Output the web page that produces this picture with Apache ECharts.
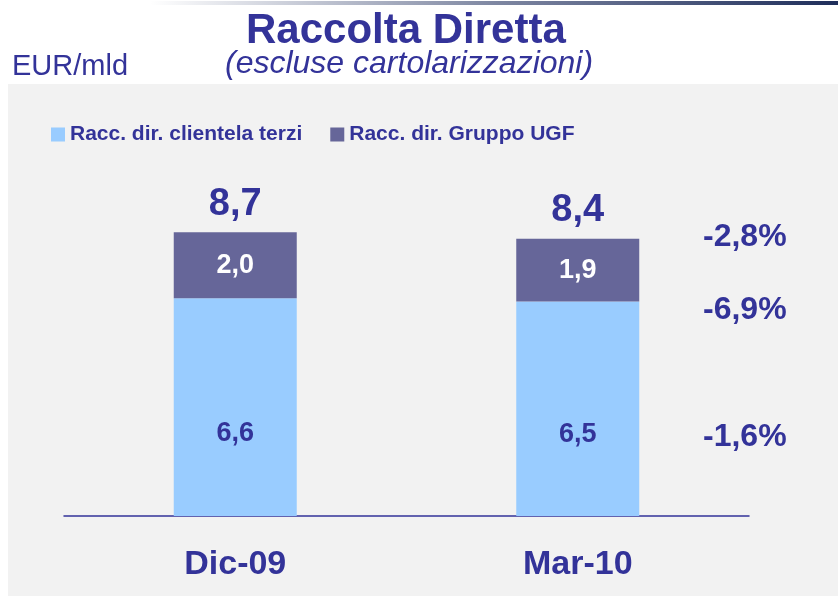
<!DOCTYPE html>
<html>
<head>
<meta charset="utf-8">
<script src="https://cdn.jsdelivr.net/npm/echarts@6/dist/echarts.min.js"></script>
<style>html,body{margin:0;padding:0;background:#fff;}#c{width:838px;height:596px;}</style>
</head>
<body>
<div id="c"></div>
<script>
var categories = ['Dic-09', 'Mar-10'];
var clientelaTerzi = [6.6, 6.5];
var gruppoUGF = [2.0, 1.9];
var totals = [8.7, 8.4];
var variations = ['-2,8%', '-6,9%', '-1,6%'];
var seriesNames = ['Racc. dir. clientela terzi', 'Racc. dir. Gruppo UGF'];

var BLUE = '#333399';
var FONT = '"Liberation Sans", Arial, sans-serif';
function fmt(v) { return v.toFixed(1).replace('.', ','); }

var chart = echarts.init(document.getElementById('c'), null, { renderer: 'canvas' });
var varY = [237, 310, 437];
var graphics = [
  { type: 'rect', z: -10, silent: true, shape: { x: 8, y: 84, width: 830, height: 512 }, style: { fill: '#F2F2F2' } },
  { type: 'rect', z: -5, silent: true, shape: { x: 150, y: 1, width: 688, height: 4 },
    style: { fill: new echarts.graphic.LinearGradient(0, 0, 1, 0, [
      { offset: 0, color: 'rgba(40,55,100,0)' }, { offset: 0.5, color: 'rgba(40,55,100,0.6)' }, { offset: 1, color: '#1E2D5A' }]) } },
  { type: 'text', left: 246, top: 10, style: { text: 'Raccolta Diretta', font: 'bold 42px ' + FONT, fill: BLUE } },
  { type: 'text', left: 12, top: 52, style: { text: 'EUR/mld', font: '29px ' + FONT, fill: BLUE } },
  { type: 'text', left: 225, top: 48, style: { text: '(escluse cartolarizzazioni)', font: 'italic 32px ' + FONT, fill: BLUE } }
];
variations.forEach(function (t, i) {
  graphics.push({ type: 'text', x: 703, y: varY[i], style: { text: t, font: 'bold 32px ' + FONT, fill: BLUE, verticalAlign: 'middle' } });
});

chart.setOption({
  backgroundColor: '#ffffff',
  animation: false,
  graphic: graphics,
  legend: {
    data: seriesNames,
    left: 51, top: 124, padding: 0,
    icon: 'rect', itemWidth: 14, itemHeight: 14, itemGap: 28,
    textStyle: { color: BLUE, fontWeight: 'bold', fontSize: 21, fontFamily: FONT }
  },
  grid: { left: 64, right: 89, top: 186, bottom: 80 },
  xAxis: {
    type: 'category', data: categories,
    axisLine: { lineStyle: { color: BLUE, width: 1.5 } },
    axisTick: { show: false },
    axisLabel: { color: BLUE, fontWeight: 'bold', fontSize: 34, fontFamily: FONT, margin: 32 }
  },
  yAxis: { type: 'value', min: 0, max: 10, show: false, splitLine: { show: false } },
  series: [
    {
      name: seriesNames[0], type: 'bar', stack: 'tot', barWidth: 123, data: clientelaTerzi,
      itemStyle: { color: '#99CCFF' },
      label: { show: true, position: 'inside', offset: [0, 26], color: BLUE, fontWeight: 'bold', fontSize: 27, fontFamily: FONT,
        formatter: function (p) { return fmt(p.value); } }
    },
    {
      name: seriesNames[1], type: 'bar', stack: 'tot', barWidth: 123, data: gruppoUGF,
      itemStyle: { color: '#666699' },
      label: { show: true, position: 'inside', color: '#ffffff', fontWeight: 'bold', fontSize: 27, fontFamily: FONT,
        formatter: function (p) { return fmt(p.value); } }
    },
    {
      name: 'Totale', type: 'bar', stack: 'tot', barWidth: 123, data: [0, 0],
      itemStyle: { color: 'transparent' },
      label: { show: true, position: 'top', distance: 9, color: BLUE, fontWeight: 'bold', fontSize: 38, fontFamily: FONT,
        formatter: function (p) { return fmt(totals[p.dataIndex]); } }
    }
  ]
});
</script>
</body>
</html>
